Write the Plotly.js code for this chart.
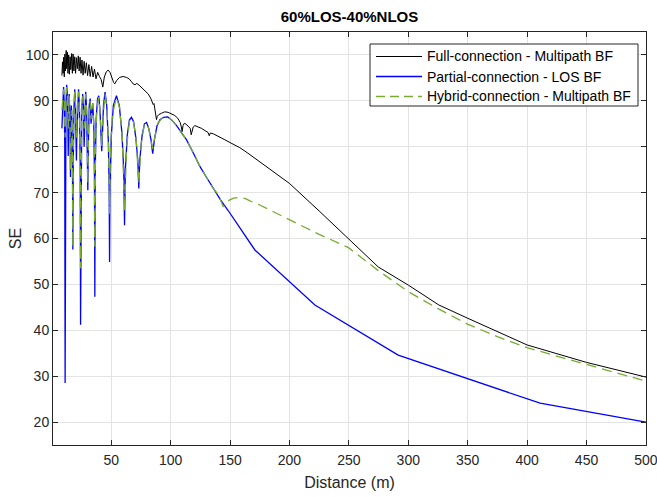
<!DOCTYPE html>
<html>
<head>
<meta charset="utf-8">
<script src="https://cdn.plot.ly/plotly-3.0.1.min.js"></script>
<style>
html, body { margin: 0; padding: 0; background: #ffffff; }
#chart { width: 657px; height: 497px; }
</style>
</head>
<body>
<div id="chart"></div>
<script>
// ---- Data ----
const chartTitle = "60%LOS-40%NLOS";
const xLabel = "Distance (m)";
const yLabel = "SE";
const seriesNames = ["Full-connection - Multipath BF", "Partial-connection - LOS BF", "Hybrid-connection - Multipath BF"];
const xTicks = [50, 100, 150, 200, 250, 300, 350, 400, 450, 500];
const yTicks = [20, 30, 40, 50, 60, 70, 80, 90, 100];

// Full-connection - Multipath BF
const fullX = [8.5, 9.0, 9.5, 10.0, 10.5, 11.0, 11.5, 12.1, 12.6, 13.1, 13.6, 14.2, 14.8, 15.4, 16.0, 16.7, 17.3, 17.9, 18.6, 19.3, 20.0, 20.8, 21.5, 22.3, 23.0, 23.8, 24.6, 25.4, 26.3, 27.2, 28.1, 29.1, 30.1, 31.2, 32.3, 33.5, 34.7, 35.9, 37.2, 38.6, 40.1, 41.6, 42.9, 44.2, 45.8, 47.4, 49.0, 50.6, 52.0, 53.0, 54.5, 57.0, 60.0, 62.9, 65.0, 67.0, 68.4, 70.0, 71.5, 73.5, 76.0, 78.5, 81.1, 83.2, 84.6, 85.3, 86.0, 86.8, 87.6, 88.1, 88.7, 90.0, 92.3, 95.0, 97.9, 100.5, 103.5, 106.0, 108.0, 109.0, 109.7, 110.4, 111.5, 113.0, 115.0, 116.5, 117.3, 118.0, 119.0, 120.4, 123.0, 126.0, 129.0, 131.5, 132.5, 133.4, 136.0, 138.6, 145.0, 150.0, 158.2, 165.0, 175.0, 183.5, 200.0, 225.0, 249.7, 274.7, 300.0, 325.8, 350.2, 400.0, 450.0, 500.0];
const fullY = [95.5, 98.5, 96.0, 99.5, 95.2, 100.2, 96.5, 101.0, 97.0, 100.6, 96.0, 100.0, 95.8, 99.6, 96.8, 100.3, 96.0, 100.2, 96.5, 99.6, 96.0, 99.4, 97.0, 99.8, 96.5, 99.5, 96.0, 98.9, 95.6, 98.6, 96.0, 98.3, 95.5, 97.9, 95.3, 97.5, 95.2, 96.9, 94.8, 96.2, 95.3, 94.6, 93.0, 95.2, 96.3, 96.7, 96.2, 95.0, 94.0, 93.7, 94.4, 95.1, 95.3, 95.1, 94.8, 94.2, 93.7, 93.5, 93.8, 93.4, 92.8, 92.1, 91.5, 90.6, 89.8, 89.2, 89.4, 88.2, 86.8, 85.9, 86.6, 87.0, 87.3, 87.6, 87.5, 87.2, 86.8, 86.2, 85.3, 84.3, 83.3, 84.6, 85.1, 84.9, 84.5, 84.0, 82.6, 83.5, 84.3, 84.6, 84.4, 84.0, 83.5, 83.1, 82.4, 83.0, 82.8, 82.4, 81.6, 80.9, 79.8, 78.6, 76.7, 75.0, 72.0, 66.0, 60.0, 53.8, 49.85, 45.5, 42.6, 36.8, 33.0, 29.8];

// Partial-connection - LOS BF
const partialX = [8.5, 9.2, 9.9, 10.5, 10.9, 11.2, 11.5, 11.9, 12.5, 13.1, 13.5, 13.8, 14.1, 14.6, 15.1, 15.5, 15.7, 15.9, 16.4, 16.9, 17.4, 17.7, 18.0, 18.6, 19.3, 19.9, 20.4, 20.7, 21.0, 21.7, 22.5, 23.3, 23.9, 24.2, 24.5, 25.2, 26.0, 26.7, 27.2, 27.7, 28.5, 29.3, 29.9, 30.3, 30.7, 31.5, 32.3, 33.0, 33.6, 34.4, 35.3, 35.9, 36.2, 36.5, 37.3, 38.5, 39.5, 40.5, 41.5, 42.0, 42.5, 43.5, 44.8, 46.2, 47.6, 48.3, 48.6, 48.9, 50.0, 51.8, 54.4, 56.8, 59.0, 60.5, 61.2, 61.9, 63.5, 65.3, 67.0, 68.8, 70.7, 72.4, 73.2, 74.0, 76.0, 78.0, 79.7, 81.6, 83.5, 84.9, 86.3, 88.5, 91.0, 94.0, 97.5, 101.0, 105.0, 109.0, 113.4, 119.0, 124.6, 130.0, 135.8, 142.0, 148.4, 155.0, 161.0, 166.0, 170.9, 221.4, 291.5, 410.9, 500.0];
const partialY = [84.0, 90.5, 93.0, 89.0, 80.0, 28.5, 80.0, 89.0, 93.5, 91.0, 85.0, 78.0, 85.0, 91.5, 88.0, 80.0, 73.4, 80.0, 89.0, 86.0, 75.0, 57.6, 75.0, 88.0, 92.5, 89.0, 82.0, 77.0, 82.0, 90.0, 92.5, 88.0, 76.0, 41.2, 76.0, 88.0, 91.5, 88.0, 80.0, 87.0, 92.0, 88.0, 80.0, 70.5, 80.0, 89.0, 90.5, 85.0, 87.0, 89.5, 85.0, 74.0, 47.3, 74.0, 86.0, 90.5, 91.1, 88.0, 82.0, 79.0, 82.0, 89.0, 91.9, 89.0, 81.0, 70.0, 54.9, 70.0, 82.0, 89.0, 91.1, 89.0, 83.0, 75.0, 62.9, 75.0, 82.5, 85.8, 86.4, 85.5, 82.0, 77.0, 70.9, 77.0, 82.5, 85.0, 85.3, 84.0, 81.5, 78.5, 81.5, 84.5, 85.9, 86.4, 86.5, 85.8, 84.6, 83.0, 81.5, 78.7, 75.7, 73.4, 70.9, 68.4, 66.1, 63.6, 61.2, 59.4, 57.5, 45.5, 34.6, 24.1, 20.0];

// Hybrid-connection - Multipath BF
const hybridX = [8.5, 9.2, 9.9, 10.5, 11.2, 11.9, 12.5, 13.1, 13.8, 14.6, 15.2, 15.7, 16.2, 16.9, 17.4, 17.7, 18.0, 18.6, 19.3, 20.0, 20.7, 21.4, 22.5, 23.3, 23.9, 24.2, 24.5, 25.2, 26.0, 27.2, 28.5, 29.6, 30.3, 31.0, 32.2, 33.0, 34.4, 35.6, 36.2, 36.8, 38.0, 39.5, 41.0, 42.0, 43.0, 44.8, 46.5, 47.8, 48.6, 49.4, 51.0, 54.4, 57.0, 59.3, 61.2, 63.0, 65.3, 67.0, 68.8, 71.0, 73.2, 75.3, 77.8, 79.7, 81.7, 84.9, 87.0, 89.5, 93.0, 97.5, 101.0, 105.0, 109.0, 113.4, 119.0, 124.6, 130.0, 135.8, 140.0, 142.5, 144.2, 146.0, 149.0, 153.0, 158.2, 163.0, 166.7, 175.0, 183.5, 199.7, 225.0, 249.7, 274.7, 300.0, 325.8, 350.2, 375.0, 400.0, 450.0, 500.0];
const hybridY = [88.0, 91.0, 92.5, 90.0, 82.0, 90.0, 93.0, 91.0, 84.0, 91.0, 86.0, 75.0, 86.0, 88.0, 78.0, 58.2, 78.0, 88.0, 92.0, 89.0, 82.0, 88.0, 92.0, 88.0, 78.0, 53.5, 78.0, 88.0, 91.0, 84.0, 91.5, 86.0, 72.0, 84.0, 90.0, 86.0, 89.5, 83.0, 58.2, 81.0, 88.5, 90.8, 86.0, 80.0, 86.0, 91.5, 88.0, 80.0, 65.4, 80.0, 87.0, 90.8, 88.5, 82.0, 66.0, 80.0, 85.5, 86.2, 85.3, 81.5, 72.0, 81.0, 84.8, 85.2, 83.8, 79.5, 82.5, 85.2, 86.3, 86.5, 85.8, 84.6, 83.0, 81.5, 78.7, 75.7, 73.4, 70.9, 69.6, 68.2, 67.0, 67.6, 68.3, 68.8, 69.0, 68.7, 68.2, 67.3, 66.2, 64.0, 60.9, 58.0, 53.0, 48.4, 44.6, 41.3, 38.6, 36.2, 32.5, 28.9];

// ---- Styles ----
const fontFam = "Liberation Sans, Arial, Helvetica, sans-serif";
const axisColor = "#262626";
const gridColor = "#e3e3e3";
const lineColors = ["#000000", "#0000ff", "#77ac30"];
const lineWidths = [1, 1.3, 1.3];
const lineDashes = ["solid", "solid", "10px,6px"];

const traces = [
  {x: fullX, y: fullY, name: seriesNames[0], type: "scatter", mode: "lines", showlegend: false,
   line: {color: lineColors[0], width: lineWidths[0]}},
  {x: partialX, y: partialY, name: seriesNames[1], type: "scatter", mode: "lines", showlegend: false,
   line: {color: lineColors[1], width: lineWidths[1]}},
  {x: hybridX, y: hybridY, name: seriesNames[2], type: "scatter", mode: "lines", showlegend: false,
   line: {color: lineColors[2], width: lineWidths[2], dash: lineDashes[2]}}
];

// ---- Legend box (drawn in paper coordinates, converted from pixel layout) ----
const plotL = 53, plotR = 646, plotT = 32, plotB = 445;
const px2x = p => (p - plotL) / (plotR - plotL);
const py2y = p => (plotB - p) / (plotB - plotT);
const legL = 370, legR = 638, legT = 44, legB = 106;
const rowY = [56.5, 76.5, 96.5];
const shapes = [
  {type: "rect", xref: "paper", yref: "paper", x0: px2x(legL), x1: px2x(legR), y0: py2y(legB), y1: py2y(legT),
   line: {color: axisColor, width: 1}, fillcolor: "#ffffff", layer: "above"}
];
const annotations = [];
seriesNames.forEach((nm, i) => {
  shapes.push({type: "line", xref: "paper", yref: "paper", x0: px2x(376), x1: px2x(422),
    y0: py2y(rowY[i]), y1: py2y(rowY[i]), layer: "above",
    line: {color: lineColors[i], width: lineWidths[i], dash: i === 2 ? "9px,5px" : "solid"}});
  annotations.push({xref: "paper", yref: "paper", x: px2x(425), y: py2y(rowY[i]),
    xanchor: "left", yanchor: "middle", showarrow: false, text: nm,
    font: {family: fontFam, size: 14, color: "#000000"}});
});

const axisCommon = {
  showline: true, linecolor: axisColor, linewidth: 1, mirror: "ticks",
  ticks: "inside", ticklen: 5, tickcolor: axisColor, tickwidth: 1,
  showgrid: true, gridcolor: gridColor, gridwidth: 1, zeroline: false,
  tickfont: {family: fontFam, size: 14, color: axisColor}
};

const layout = {
  width: 657, height: 497,
  paper_bgcolor: "#ffffff", plot_bgcolor: "#ffffff",
  margin: {l: plotL, r: 657 - plotR, t: plotT, b: 497 - plotB, pad: 0},
  showlegend: false,
  title: {text: "<b>" + chartTitle + "</b>", x: 0.5, xref: "paper", xanchor: "center",
          y: 1 - 17 / 497, yref: "container", yanchor: "middle",
          font: {family: fontFam, size: 15, color: "#000000"}},
  xaxis: Object.assign({}, axisCommon, {
    range: [1, 500.05], tickmode: "array", tickvals: xTicks, ticktext: xTicks.map(String),
    ticklabelstandoff: 2, ticklabeloverflow: "allow",
    title: {text: xLabel, font: {family: fontFam, size: 16, color: axisColor}, standoff: 10}
  }),
  yaxis: Object.assign({}, axisCommon, {
    range: [15, 105], tickmode: "array", tickvals: yTicks, ticktext: yTicks.map(String),
    title: {text: yLabel, font: {family: fontFam, size: 16, color: axisColor}, standoff: 0}
  }),
  shapes: shapes,
  annotations: annotations
};

Plotly.newPlot("chart", traces, layout, {staticPlot: true, displayModeBar: false});
</script>
</body>
</html>
